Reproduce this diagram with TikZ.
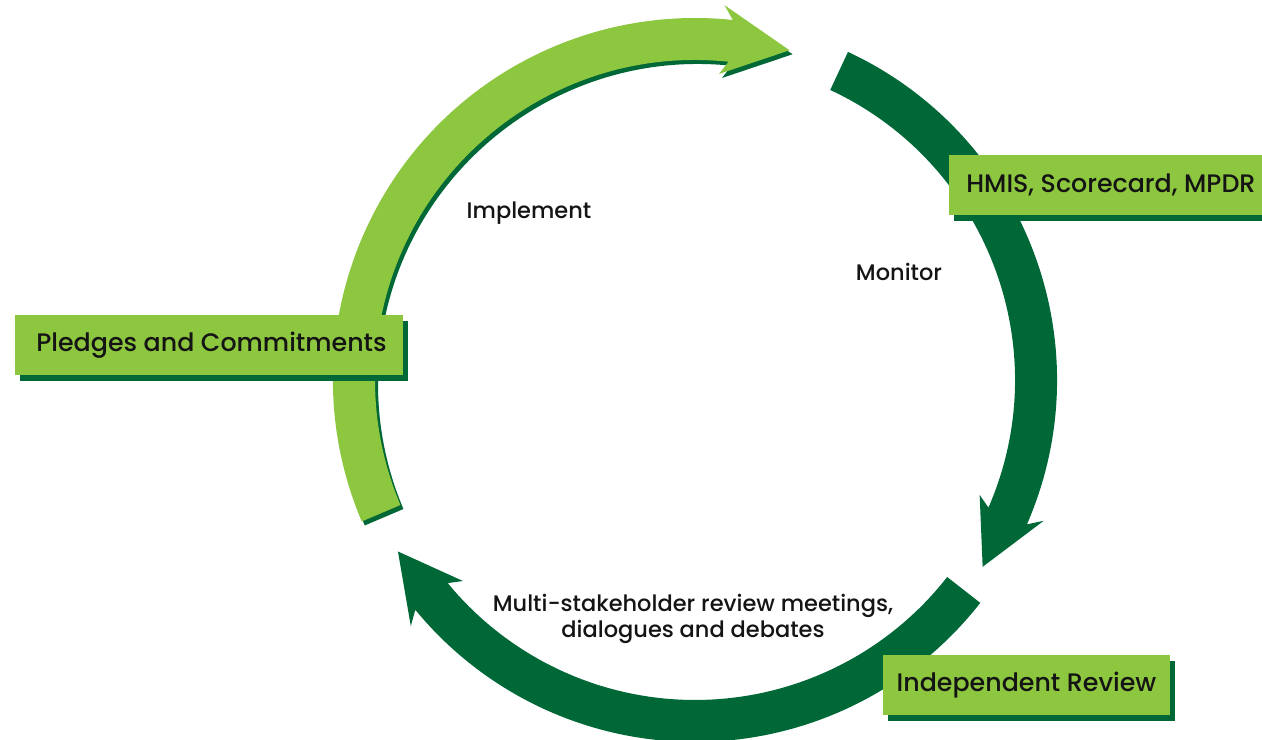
\documentclass[tikz,border=0pt]{standalone}
\usepackage{fontspec}
\setmainfont{Poppins}[UprightFont={* Medium}]
\usetikzlibrary{shadows}
\definecolor{cycdark}{RGB}{0,104,55}
\definecolor{cyclight}{RGB}{141,198,63}
\definecolor{cyctext}{RGB}{20,20,20}

% curved arrow of the cycle: [options]{colour}{start}{head base}{tip}
\newcommand{\cyclearrow}[5][]{%
  \fill[#2,#1] (#3:362) arc[start angle=#3, end angle=#4, radius=362]
    -- ({#4+1.5}:376) -- (#5:343) -- ({#4+1.5}:307)
    -- (#4:320) arc[start angle=#4, end angle=#3, radius=320] -- cycle;}

\begin{document}
\begin{tikzpicture}[x=0.02cm,y=0.02cm,
    stagebox/.style={fill=cyclight, text=cyctext, inner sep=0pt,
      minimum height=1.2cm, font=\fontsize{14.4}{17}\selectfont,
      general shadow={fill=cycdark, shadow xshift=0.1cm, shadow yshift=-0.12cm}},
    steplabel/.style={text=cyctext, align=center, font=\fontsize{12.8}{15}\selectfont}]
        \clip (0,0) rectangle (1262,740);

        % Arcos del ciclo
        \begin{scope}[shift={(695,360)}]
            \cyclearrow[shift={(3,-4)}]{cycdark}{203}{84}{74}
            \cyclearrow{cyclight}{203}{84}{74}
            \cyclearrow{cycdark}{65}{-23.5}{-33}
            \cyclearrow{cycdark}{-38}{-140.6}{-150}
        \end{scope}

        % Etiquetas de las etapas
        \node[steplabel] (implement) at (529,527) {Implement};
        \node[steplabel] (monitor) at (899,468) {Monitor};
        \node[steplabel] (review) at (693,121)
            {Multi-stakeholder review meetings,\\dialogues and debates};

        % Cajas
        \node[stagebox, minimum width=7.76cm] (pledges) at (209,395)
            {\hspace{0.1cm}Pledges and Commitments};
        \node[stagebox, anchor=west, inner xsep=0.34cm] (hmis) at (949,555)
            {HMIS, Scorecard, MPDR};
        \node[stagebox, minimum width=5.74cm] (indep) at (1026.5,55)
            {Independent Review};
\end{tikzpicture}
\end{document}
